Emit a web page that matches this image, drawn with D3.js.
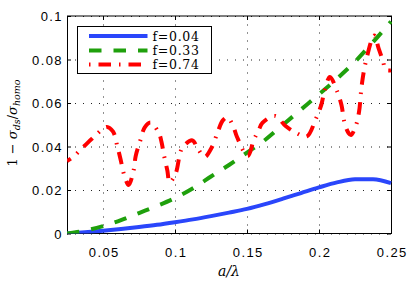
<!DOCTYPE html>
<html>
<head>
<meta charset="utf-8">
<script src="https://cdn.jsdelivr.net/npm/d3@7"></script>
<style>
  body { margin: 0; background: #fff; }
  svg { display: block; }
</style>
</head>
<body>
<script>
// data
const xTicks = [0.05, 0.1, 0.15, 0.2, 0.25];
const xTickLabels = ["0.05", "0.1", "0.15", "0.2", "0.25"];
const yTicks = [0, 0.02, 0.04, 0.06, 0.08, 0.1];
const yTickLabels = ["0", "0.02", "0.04", "0.06", "0.08", "0.1"];
const seriesNames = ["f=0.04", "f=0.33", "f=0.74"];

const smoothX = [0.025, 0.0375, 0.05, 0.0625, 0.075, 0.0875, 0.1, 0.1125, 0.125, 0.1375,
  0.15, 0.1625, 0.175, 0.1875, 0.2, 0.2125, 0.225, 0.2375, 0.25];
const f004 = [0, 0.0006, 0.0013, 0.0021, 0.003, 0.004, 0.0052, 0.0065, 0.008, 0.0096,
  0.0113, 0.0135, 0.016, 0.0186, 0.0212, 0.0235, 0.0249, 0.0250, 0.0232];
const f033 = [0, 0.0013, 0.0034, 0.0061, 0.0094, 0.0127, 0.0163, 0.0208, 0.0262, 0.0315,
  0.0372, 0.043, 0.05, 0.057, 0.064, 0.0712, 0.079, 0.088, 0.0975];

const f074X = [0.025, 0.03, 0.035, 0.04, 0.045, 0.0527, 0.057, 0.0599, 0.0623, 0.0647,
  0.0678, 0.0713, 0.0727, 0.0758, 0.079, 0.0831, 0.0889, 0.0906, 0.0926, 0.0947,
  0.0963, 0.1005, 0.105, 0.1121, 0.1156, 0.1206, 0.1253, 0.1297, 0.1331, 0.1365,
  0.1409, 0.143, 0.1505, 0.1547, 0.1582, 0.1607, 0.1695, 0.1768, 0.1842, 0.1915,
  0.1975, 0.2017, 0.2037, 0.2076, 0.2125, 0.2156, 0.2176, 0.2205, 0.2222, 0.2255,
  0.2278, 0.2297, 0.2325, 0.2383, 0.2414, 0.2442, 0.2465, 0.25];
const f074 = [0.0333, 0.0356, 0.0389, 0.0421, 0.0453, 0.049, 0.0468, 0.0402, 0.0338, 0.0269,
  0.0223, 0.0292, 0.0356, 0.0425, 0.0488, 0.051, 0.046, 0.0422, 0.0352, 0.0289,
  0.0235, 0.0277, 0.0393, 0.0428, 0.0393, 0.0352, 0.0393, 0.0467, 0.0519, 0.0534,
  0.0484, 0.0445, 0.0356, 0.043, 0.0476, 0.0509, 0.054, 0.0494, 0.0462, 0.0446,
  0.0522, 0.0594, 0.0652, 0.072, 0.0655, 0.0591, 0.0513, 0.0462, 0.0453, 0.0494,
  0.0559, 0.0683, 0.0789, 0.091, 0.0851, 0.0798, 0.0752, 0.075];

const width = 415;
const height = 284;
const margin = { top: 16, right: 24, bottom: 50.5, left: 67 };
const chartWidth = width - margin.left - margin.right;
const chartHeight = height - margin.top - margin.bottom;

const colors = ["#2a46fb", "#1fa00c", "#ff0000"];

const svg = d3.select("body")
  .append("svg")
  .attr("width", width)
  .attr("height", height);

const g = svg.append("g")
  .attr("transform", `translate(${margin.left}, ${margin.top})`);

const x = d3.scaleLinear().domain([0.025, 0.25]).range([0, chartWidth]);
const y = d3.scaleLinear().domain([0, 0.1]).range([chartHeight, 0]);

// dotted grid
const xGrid = g.append("g")
  .attr("transform", `translate(0, ${chartHeight})`)
  .call(d3.axisBottom(x).tickValues(xTicks).tickSize(-chartHeight).tickFormat(""));
const yGrid = g.append("g")
  .call(d3.axisLeft(y).tickValues(yTicks).tickSize(-chartWidth).tickFormat(""));
[xGrid, yGrid].forEach(gr => {
  gr.select(".domain").remove();
  gr.selectAll("line")
    .attr("stroke", "#222")
    .attr("stroke-dasharray", "1,7");
});

// frame
g.append("rect")
  .attr("x", 0.5).attr("y", 0)
  .attr("width", chartWidth).attr("height", chartHeight)
  .attr("fill", "none")
  .attr("stroke", "#000")
  .attr("stroke-width", 1);

// ticks on all four sides, pointing inward
const tickFont = "'Liberation Sans', Arial, sans-serif";

const xAxis = g.append("g")
  .attr("transform", `translate(0, ${chartHeight})`)
  .call(d3.axisBottom(x).tickValues(xTicks)
    .tickFormat((d, i) => xTickLabels[i])
    .tickSizeInner(-4).tickSizeOuter(0));
xAxis.selectAll("text")
  .attr("y", 23).attr("dy", null).attr("dx", 0.7)
  .attr("font-family", tickFont).attr("font-size", 13)
  .attr("letter-spacing", 1.4).attr("fill", "#000");

const yAxis = g.append("g")
  .call(d3.axisLeft(y).tickValues(yTicks)
    .tickFormat((d, i) => yTickLabels[i])
    .tickSizeInner(-4).tickSizeOuter(0));
yAxis.selectAll("text")
  .attr("x", -4).attr("dy", "0.36em")
  .attr("font-family", tickFont).attr("font-size", 13)
  .attr("letter-spacing", 1.4).attr("fill", "#000");

g.append("g")
  .call(d3.axisTop(x).tickValues(xTicks).tickFormat("").tickSizeInner(-4).tickSizeOuter(0));
g.append("g")
  .attr("transform", `translate(${chartWidth}, 0)`)
  .call(d3.axisRight(y).tickValues(yTicks).tickFormat("").tickSizeInner(-4).tickSizeOuter(0));

g.selectAll(".domain").remove();
g.selectAll(".tick line").filter(function () { return !this.getAttribute("stroke-dasharray"); })
  .attr("stroke", "#000");

// curves
svg.append("defs").append("clipPath").attr("id", "plot-clip")
  .append("rect")
  .attr("x", 0).attr("y", -2)
  .attr("width", chartWidth + 1).attr("height", chartHeight + 2);

const lines = g.append("g").attr("clip-path", "url(#plot-clip)");

const smoothLine = d3.line()
  .x(d => x(d[0]))
  .y(d => y(d[1]))
  .curve(d3.curveMonotoneX);

const wavyLine = d3.line()
  .x(d => x(d[0]))
  .y(d => y(d[1]))
  .curve(d3.curveCatmullRom.alpha(0.5));

const styles = [
  { dash: null, offset: 0 },
  { dash: "12.5,12", offset: 0 },
  { dash: "12.5,8,1.5,8", offset: 20.5 }
];

lines.append("path")
  .datum(smoothX.map((v, i) => [v, f004[i]]))
  .attr("d", smoothLine)
  .attr("fill", "none")
  .attr("stroke", colors[0])
  .attr("stroke-width", 4);

lines.append("path")
  .datum(smoothX.map((v, i) => [v, f033[i]]))
  .attr("d", smoothLine)
  .attr("fill", "none")
  .attr("stroke", colors[1])
  .attr("stroke-width", 4)
  .attr("stroke-dasharray", styles[1].dash);

lines.append("path")
  .datum(f074X.map((v, i) => [v, f074[i]]))
  .attr("d", wavyLine)
  .attr("fill", "none")
  .attr("stroke", colors[2])
  .attr("stroke-width", 4)
  .attr("stroke-dasharray", styles[2].dash)
  .attr("stroke-dashoffset", 8);

// legend
const legend = svg.append("g");
legend.append("rect")
  .attr("x", 77.5).attr("y", 26.5)
  .attr("width", 134).attr("height", 47)
  .attr("fill", "#fff")
  .attr("stroke", "#000");

const legendY = [36, 50.5, 64.5];
seriesNames.forEach((name, i) => {
  legend.append("line")
    .attr("x1", 89).attr("x2", 147.5)
    .attr("y1", legendY[i]).attr("y2", legendY[i])
    .attr("stroke", colors[i])
    .attr("stroke-width", 4)
    .attr("stroke-dasharray", styles[i].dash)
    .attr("stroke-dashoffset", styles[i].offset);
  legend.append("text")
    .attr("x", 152.5).attr("y", legendY[i] + 4.5)
    .attr("font-family", "'DejaVu Serif', serif")
    .attr("font-size", 12.5)
    .attr("letter-spacing", 0.7)
    .attr("fill", "#000")
    .text(name);
});

// axis labels
svg.append("text")
  .attr("x", 229).attr("y", 276)
  .attr("text-anchor", "middle")
  .attr("font-family", "'DejaVu Serif', serif")
  .attr("font-style", "italic")
  .attr("font-size", 14)
  .text("a/λ");

const yLabel = svg.append("text")
  .attr("transform", "translate(17, 123) rotate(-90)")
  .attr("text-anchor", "middle")
  .attr("font-family", "'DejaVu Serif', serif")
  .attr("font-size", 13)
  .attr("fill", "#000");
yLabel.append("tspan").text("1 − ");
yLabel.append("tspan").attr("font-style", "italic").text("σ");
yLabel.append("tspan").attr("font-style", "italic").attr("font-size", 9.5).attr("dy", 3).text("ds");
yLabel.append("tspan").attr("dy", -3).text("/");
yLabel.append("tspan").attr("font-style", "italic").text("σ");
yLabel.append("tspan").attr("font-style", "italic").attr("font-size", 9.5).attr("dy", 3).text("homo");
</script>
</body>
</html>
